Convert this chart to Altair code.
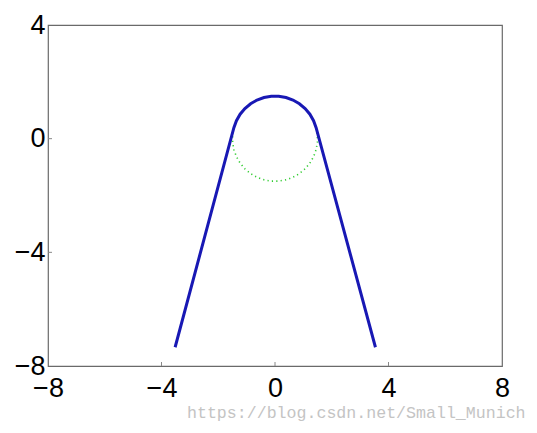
import altair as alt
import pandas as pd

# Blue path: left tangent line, upper arc (r = 1.5), right tangent line
path_x = [-3.52, -1.449, -1.359, -1.229, -1.061, -0.860, -0.634, -0.388, -0.131,
          0.131, 0.388, 0.634, 0.860, 1.061, 1.229, 1.359, 1.449, 3.54]
path_y = [-7.34, 0.388, 0.634, 0.860, 1.061, 1.229, 1.359, 1.449, 1.494,
          1.494, 1.449, 1.359, 1.229, 1.061, 0.860, 0.634, 0.388, -7.34]

# Green dotted lower arc
arc_x = [-1.449, -1.494, -1.494, -1.449, -1.359, -1.229, -1.061, -0.860, -0.634, -0.388, -0.131,
         0.131, 0.388, 0.634, 0.860, 1.061, 1.229, 1.359, 1.449, 1.494, 1.494, 1.449]
arc_y = [0.388, 0.131, -0.131, -0.388, -0.634, -0.860, -1.061, -1.229, -1.359, -1.449, -1.494,
         -1.494, -1.449, -1.359, -1.229, -1.061, -0.860, -0.634, -0.388, -0.131, 0.131, 0.388]

x_ticks = [-8, -4, 0, 4, 8]
y_ticks = [-8, -4, 0, 4]
inner_x_ticks = [-4, 0, 4]
inner_y_ticks = [-4, 0]
watermark = "https://blog.csdn.net/Small_Munich"

W, H = 454, 341

path_df = pd.DataFrame({"x": path_x, "y": path_y, "i": list(range(len(path_x)))})
arc_df = pd.DataFrame({"x": arc_x, "y": arc_y, "i": list(range(len(arc_x)))})

xs = alt.Scale(domain=[-8, 8], nice=False, zero=False)
ys = alt.Scale(domain=[-8, 4], nice=False, zero=False)

x_axis = alt.Axis(values=x_ticks, grid=False, domain=False, ticks=False, title=None,
                  labelFontSize=27, labelFont="Liberation Sans", labelColor="black",
                  labelPadding=9, labelFlush=False)
y_axis = alt.Axis(values=y_ticks, grid=False, domain=False, ticks=False, title=None,
                  labelFontSize=27, labelFont="Liberation Sans", labelColor="black",
                  labelPadding=3, labelFlush=False)

arc = alt.Chart(arc_df).mark_line(color="#33cc33", strokeWidth=1.6, strokeDash=[1.2, 3.2]).encode(
    x=alt.X("x:Q", scale=xs, axis=x_axis),
    y=alt.Y("y:Q", scale=ys, axis=y_axis),
    order="i:Q",
)

path = alt.Chart(path_df).mark_line(color="#1818b4", strokeWidth=3).encode(
    x=alt.X("x:Q", scale=xs),
    y=alt.Y("y:Q", scale=ys),
    order="i:Q",
)

xt = alt.Chart(pd.DataFrame({"t": inner_x_ticks})).mark_rule(color="#888", strokeWidth=1).encode(
    x=alt.X("t:Q", scale=xs),
    y=alt.value(H),
    y2=alt.value(H - 4),
)
yt = alt.Chart(pd.DataFrame({"t": inner_y_ticks})).mark_rule(color="#888", strokeWidth=1).encode(
    y=alt.Y("t:Q", scale=ys),
    x=alt.value(0),
    x2=alt.value(4),
)

wm = alt.Chart(pd.DataFrame({"s": [watermark]})).mark_text(
    font="Liberation Mono", fontSize=16.6, color="#c4c4c4", align="left", baseline="alphabetic"
).encode(text="s:N", x=alt.value(139), y=alt.value(H + 52))

chart = alt.layer(arc, path, xt, yt, wm).properties(
    width=W, height=H,
    autosize=alt.AutoSizeParams(type="none"),
    padding={"left": 40, "top": 17, "right": 25, "bottom": 60},
).configure_view(stroke="#6a6a6a", strokeWidth=1.2)

chart.save("out.html", embed_options={"renderer": "svg", "actions": False})
